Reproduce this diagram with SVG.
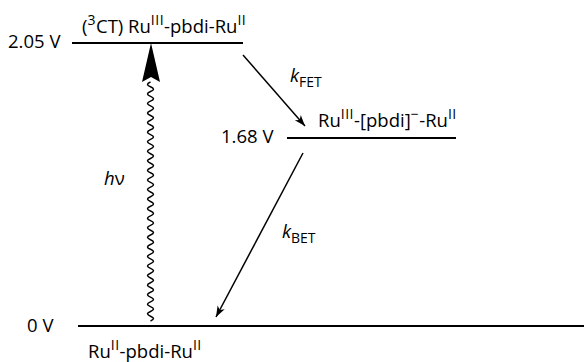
<svg xmlns="http://www.w3.org/2000/svg" width="584" height="362" viewBox="0 0 584 362">
<style>
text{font-family:"Open Sans","Noto Sans",sans-serif;font-size:18.5px;fill:#000;font-variant-ligatures:none}
.sup{font-size:14px;letter-spacing:0.5px}
.sub{font-size:14px}
.lvl{stroke:#000;stroke-width:2;fill:none}
.arr{stroke:#000;stroke-width:1.5;fill:none}
</style>
<defs>
<marker id="ah" markerWidth="12" markerHeight="10" refX="11" refY="5" orient="auto" markerUnits="userSpaceOnUse">
<path d="M0,1 L11,5 L0,9 L3,5 Z" fill="#000"/>
</marker>
</defs>
<rect width="584" height="362" fill="#fff"/>
<g id="level-ct">
<line class="lvl" x1="72" y1="43" x2="243" y2="43"/>
<text x="8" y="48">2.05 V</text>
<text x="82" y="33">(<tspan class="sup" dy="-8">3</tspan><tspan dy="8">CT) Ru</tspan><tspan class="sup" dy="-8">III</tspan><tspan dy="8">-pbdi-Ru</tspan><tspan class="sup" dy="-8">II</tspan></text>
</g>
<g id="level-cs">
<line class="lvl" x1="287" y1="138" x2="456" y2="138"/>
<text x="221" y="143">1.68 V</text>
<text x="318" y="127">Ru<tspan class="sup" dy="-8">III</tspan><tspan dy="8">-[pbdi]</tspan><tspan class="sup" dy="-8">−</tspan><tspan dy="8">-Ru</tspan><tspan class="sup" dy="-8">II</tspan></text>
</g>
<g id="level-gs">
<line class="lvl" x1="78" y1="326" x2="584" y2="326"/>
<text x="27" y="332">0 V</text>
<text x="88" y="358">Ru<tspan class="sup" dy="-8">II</tspan><tspan dy="8">-pbdi-Ru</tspan><tspan class="sup" dy="-8">II</tspan></text>
</g>
<g id="connectors">
<path class="arr" d="M150.5,321 q6,-2.39 0,-4.78 t0,-4.78 t0,-4.78 t0,-4.78 t0,-4.78 t0,-4.78 t0,-4.78 t0,-4.78 t0,-4.78 t0,-4.78 t0,-4.78 t0,-4.78 t0,-4.78 t0,-4.78 t0,-4.78 t0,-4.78 t0,-4.78 t0,-4.78 t0,-4.78 t0,-4.78 t0,-4.78 t0,-4.78 t0,-4.78 t0,-4.78 t0,-4.78 t0,-4.78 t0,-4.78 t0,-4.78 t0,-4.78 t0,-4.78 t0,-4.78 t0,-4.78 t0,-4.78 t0,-4.78 t0,-4.78 t0,-4.78 t0,-4.78 t0,-4.78 t0,-4.78 t0,-4.78 t0,-4.78 t0,-4.78 t0,-4.78 t0,-4.78 t0,-4.78 t0,-4.78 t0,-4.78 t0,-4.78 t0,-4.78 t0,-4.78"/>
<path d="M151,43 L160,82 L151,77 L142,82 Z" fill="#000"/>
<line class="arr" x1="243" y1="55" x2="305" y2="126" marker-end="url(#ah)"/>
<line class="arr" x1="303" y1="153" x2="216" y2="317" marker-end="url(#ah)"/>
<text x="104" y="185" font-style="italic">h<tspan font-style="normal">ν</tspan></text>
<text x="290" y="82" font-style="italic">k<tspan class="sub" font-style="normal" dy="5">FET</tspan></text>
<text x="282" y="238" font-style="italic">k<tspan class="sub" font-style="normal" dy="5">BET</tspan></text>
</g>
</svg>
